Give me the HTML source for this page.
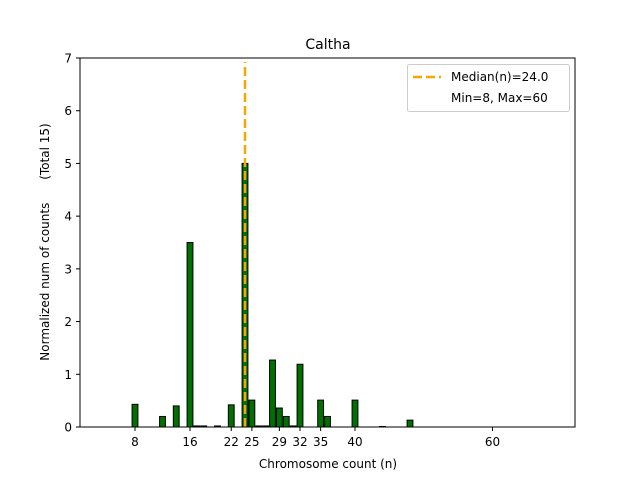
<!DOCTYPE html>
<html><head><meta charset="utf-8"><style>
body{margin:0;background:#fff;}
svg text{font-family:"DejaVu Sans","Liberation Sans",sans-serif;fill:#000;}
</style></head><body>
<svg id="c" width="640" height="480" xmlns="http://www.w3.org/2000/svg">
<rect width="640" height="480" fill="#fff"/>
<text x="328" y="49" font-size="14" text-anchor="middle">Caltha</text>
<g id="bars"></g>
<g id="xt"></g>
<g id="yt"></g>
<line id="med" stroke="#f5a800" stroke-width="2.5" stroke-dasharray="9,4"/>
<rect x="80" y="58" width="495" height="369" fill="none" stroke="#000" stroke-width="1"/>
<text x="328" y="468" font-size="12" text-anchor="middle">Chromosome count (n)</text>
<text transform="translate(49,242) rotate(-90)" font-size="12" text-anchor="middle" xml:space="preserve">Normalized num of counts      (Total 15)</text>
<g>
<rect x="407.5" y="64.5" width="162" height="47" rx="2" fill="#fff" stroke="#ccc"/>
<line x1="413" y1="77" x2="441" y2="77" stroke="#f5a800" stroke-width="2.5" stroke-dasharray="9,4"/>
<text x="451" y="81" font-size="12">Median(n)=24.0</text>
<text x="451" y="102" font-size="12">Min=8, Max=60</text>
</g>
</svg>
<script>
const categories=[8,12,14,16,17,18,20,22,24,25,26,27,28,29,30,31,32,35,36,40,44,48];
const values=[0.43,0.2,0.4,3.5,0.02,0.02,0.02,0.42,5.0,0.51,0.02,0.02,1.27,0.36,0.2,0.02,1.19,0.51,0.2,0.51,0.01,0.13];
const xTicks=[8,16,22,25,29,32,35,40,60];
const yTicks=[0,1,2,3,4,5,6,7];
const median=24;
const NS="http://www.w3.org/2000/svg";
const X=v=>80+v*(495/72), Y=v=>427-v*(369/7);
const bars=document.getElementById('bars');
categories.forEach((c,i)=>{
 const r=document.createElementNS(NS,'rect');
 const w=0.85*495/72;
 r.setAttribute('x',X(c)-w/2);r.setAttribute('y',Y(values[i]));
 r.setAttribute('width',w);r.setAttribute('height',Y(0)-Y(values[i]));
 r.setAttribute('fill','#007000');r.setAttribute('stroke','#000');r.setAttribute('stroke-width','1');
 
 
 bars.appendChild(r);
});
const xt=document.getElementById('xt');
xTicks.forEach(t=>{
 const l=document.createElementNS(NS,'line');
 l.setAttribute('x1',X(t));l.setAttribute('x2',X(t));l.setAttribute('y1',427);l.setAttribute('y2',431);l.setAttribute('stroke','#000');
 
 
 xt.appendChild(l);
 const s=document.createElementNS(NS,'text');
 s.setAttribute('x',X(t));s.setAttribute('y',446);s.setAttribute('font-size','12');s.setAttribute('text-anchor','middle');s.textContent=t;
 
 
 xt.appendChild(s);
});
const yt=document.getElementById('yt');
yTicks.forEach(t=>{
 const l=document.createElementNS(NS,'line');
 l.setAttribute('x1',76);l.setAttribute('x2',80);l.setAttribute('y1',Y(t));l.setAttribute('y2',Y(t));l.setAttribute('stroke','#000');
 
 
 yt.appendChild(l);
 const s=document.createElementNS(NS,'text');
 s.setAttribute('x',72);s.setAttribute('y',Y(t)+4.5);s.setAttribute('font-size','12');s.setAttribute('text-anchor','end');s.textContent=t;
 
 
 yt.appendChild(s);
});
const m=document.getElementById('med');
m.setAttribute('x1',X(median));m.setAttribute('x2',X(median));m.setAttribute('y1',Y(0));m.setAttribute('y2',62);
</script>
</body></html>
